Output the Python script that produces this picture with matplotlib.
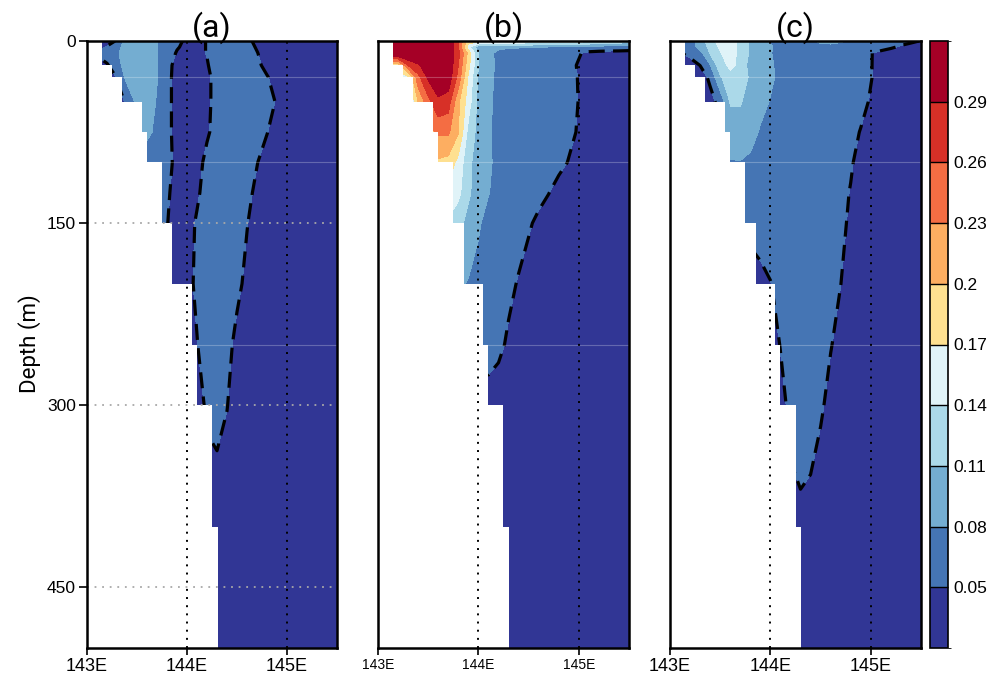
import numpy as np
import matplotlib
matplotlib.use('Agg')
import matplotlib.pyplot as plt
import matplotlib.cm as cm
from matplotlib.colors import ListedColormap, BoundaryNorm

# grid of the sections
lons = [143.0, 143.1, 143.2, 143.3, 143.4, 143.5, 143.6, 143.7, 143.8, 143.9,
        144.0, 144.1, 144.2, 144.3, 144.4, 144.5, 144.6, 144.7, 144.8, 144.9,
        145.0, 145.1, 145.2, 145.3, 145.4, 145.5]
depths = [0, 5, 10, 20, 30, 50, 75, 100, 125, 150, 200, 250, 300, 400, 500]

# values in hundredths, one row per depth
field_a = [
    [3, 3, 4, 5.25, 10, 10, 9.5, 8.1, 7, 5.6, 4.5, 4.4, 5.1, 6.5, 6.8, 6.5, 5.6, 4.4, 3.5, 3, 3, 3, 3, 3, 3, 3],
    [3.7, 4.2, 5.2, 6.5, 10, 10, 9.5, 8.1, 6.6, 5.2, 4.4, 4.4, 5.1, 6.5, 6.8, 6.5, 5.8, 4.8, 3.7, 3.1, 3, 3, 3, 3, 3, 3],
    [4.5, 5.5, 6.5, 7.5, 10, 10, 9.5, 8.1, 6.2, 4.8, 4.3, 4.4, 5.1, 6.5, 6.8, 6.5, 6.0, 5.1, 4.0, 3.2, 3, 3, 3, 3, 3, 3],
    [3, 3.5, 4.7, 6.8, 9.5, 10, 9.6, 8.1, 6.0, 4.0, 3.6, 3.8, 4.8, 6.2, 6.8, 6.7, 6.3, 5.6, 4.2, 3.2, 3, 3, 3, 3, 3, 3],
    [3, 3, 3.5, 5.1, 9.0, 10, 9.6, 8.1, 5.8, 4.0, 3.5, 3.6, 4.5, 5.8, 6.8, 6.9, 6.7, 6.3, 5.2, 3.8, 3.2, 3, 3, 3, 3, 3],
    [3, 3, 3, 4.2, 5.3, 8.8, 9.3, 7.8, 5.8, 4.0, 3.5, 3.6, 4.5, 5.8, 6.9, 7.0, 6.8, 6.5, 5.8, 4.8, 3.5, 3, 3, 3, 3, 3],
    [3, 3, 3, 5, 7, 9.0, 8.6, 7.4, 5.8, 4.0, 3.5, 3.6, 4.7, 5.8, 6.8, 6.9, 6.6, 6.1, 5.1, 3.8, 3.2, 3, 3, 3, 3, 3],
    [3, 3, 3, 4, 5.5, 6.5, 6.5, 6.5, 5.9, 4.2, 3.5, 4.2, 5.6, 6.5, 6.8, 6.6, 6.0, 5.1, 3.8, 3.2, 3, 3, 3, 3, 3, 3],
    [3, 3, 3, 4, 5.5, 6.5, 6.5, 6.3, 5.4, 4.0, 3.6, 4.6, 6.0, 6.6, 6.7, 6.4, 5.7, 4.4, 3.4, 3, 3, 3, 3, 3, 3, 3],
    [3, 3, 3, 4, 5.5, 6.5, 6.5, 6.0, 5.1, 3.8, 4.0, 5.3, 6.5, 6.6, 6.4, 6.0, 5.1, 4.0, 3.3, 3, 3, 3, 3, 3, 3, 3],
    [3, 3, 3, 3, 3, 3, 3, 3, 3.5, 3.5, 4.2, 5.5, 6.5, 6.5, 6.2, 5.6, 4.4, 3.3, 3, 3, 3, 3, 3, 3, 3, 3],
    [3, 3, 3, 3, 3, 3, 3, 3, 3, 3, 3.5, 4.9, 6.3, 6.4, 5.8, 4.3, 3.3, 3, 3, 3, 3, 3, 3, 3, 3, 3],
    [3, 3, 3, 3, 3, 3, 3, 3, 3, 3, 3, 3.5, 5.6, 6.2, 5.1, 3.5, 3, 3, 3, 3, 3, 3, 3, 3, 3, 3],
    [3] * 26,
    [3] * 26,
]

field_b = [
    [33, 33, 33, 33, 33, 33, 33, 32, 26, 18.5, 18.5, 18.5, 18, 17.5, 17, 16.8, 16.5, 16.3, 16, 15.8, 15.5, 15, 14.5, 14, 13.5, 13],
    [33, 33, 33, 33, 33, 33, 33, 32, 26, 15, 9, 8.6, 8.4, 8.3, 8.2, 8.1, 8.0, 7.9, 7.8, 7.7, 7.5, 7, 6.8, 6.5, 6.2, 6],
    [33, 33, 33, 33, 33, 33, 33, 31.5, 27, 19, 11, 8.5, 7.5, 7, 6.9, 6.8, 6.7, 6.6, 6.4, 6.2, 5.2, 4.4, 4.2, 4.2, 4.3, 4.3],
    [18, 18, 18, 26, 28.5, 31, 31, 31.5, 26, 18, 11, 8.8, 7.5, 7, 6.9, 6.8, 6.7, 6.5, 6.2, 5.6, 4.8, 4.0, 3.8, 3.8, 3.8, 3.8],
    [16, 16, 16, 16, 25, 29.5, 31, 31, 25, 16.5, 10.5, 8.6, 7.4, 7.0, 6.9, 6.8, 6.6, 6.4, 6.1, 5.6, 4.9, 4.0, 3.8, 3.8, 3.8, 3.8],
    [12, 12, 12, 12, 20, 25, 28.5, 27.5, 20.5, 15.5, 10, 8.5, 7.3, 7.0, 6.9, 6.8, 6.6, 6.4, 6.1, 5.6, 4.95, 4.0, 3.8, 3.8, 3.8, 3.8],
    [10, 10, 10, 10, 14, 22, 23.5, 23.5, 20.2, 13, 10, 8.3, 7.2, 7.0, 6.9, 6.8, 6.6, 6.3, 6.0, 5.5, 4.8, 4.0, 3.8, 3.8, 3.8, 3.8],
    [10, 10, 10, 10, 12, 18, 19.5, 19, 16, 11.8, 9.5, 8.4, 7.3, 7.0, 6.9, 6.8, 6.6, 6.2, 5.6, 4.9, 4.3, 3.8, 3.6, 3.6, 3.6, 3.6],
    [8, 8, 8, 8, 10, 14, 16, 16, 14.8, 11.5, 9.5, 8.1, 7.2, 6.8, 6.5, 6.2, 5.7, 5.05, 4.2, 3.8, 3.6, 3.6, 3.6, 3.6, 3.6, 3.6],
    [7, 7, 7, 7, 8, 11, 13, 13.5, 12, 10, 8.3, 7.2, 6.8, 6.4, 6.0, 5.3, 4.5, 3.9, 3.6, 3.6, 3.6, 3.6, 3.6, 3.6, 3.6, 3.6],
    [6, 6, 6, 6, 6, 7, 8, 8.5, 8.5, 7.8, 7.2, 6.8, 6.3, 5.6, 4.8, 4.0, 3.6, 3.5, 3.5, 3.5, 3.5, 3.5, 3.5, 3.5, 3.5, 3.5],
    [5, 5, 5, 5, 5, 5, 5, 6, 6.5, 6.5, 6.5, 6.2, 5.6, 4.6, 3.8, 3.5, 3.5, 3.5, 3.5, 3.5, 3.5, 3.5, 3.5, 3.5, 3.5, 3.5],
    [3.5, 3.5, 3.5, 3.5, 3.5, 3.5, 3.5, 3.5, 3.5, 3.5, 3.5, 3.8, 3.6, 3.5, 3.5, 3.5, 3.5, 3.5, 3.5, 3.5, 3.5, 3.5, 3.5, 3.5, 3.5, 3.5],
    [3.5] * 26,
    [3.5] * 26,
]

field_c = [
    [5, 6, 6.5, 9.5, 12.5, 15.5, 16, 12.5, 10.5, 9, 7.9, 7, 7, 7.2, 7.8, 8.3, 8.4, 8.2, 7.8, 7, 6.5, 6.3, 6.1, 5.8, 5.4, 4.9],
    [4.8, 5.5, 6.5, 9, 11.8, 14.5, 15.5, 13, 10.6, 9.2, 8.2, 7.3, 7, 7, 7.2, 7.5, 7.6, 7.4, 7.2, 6.8, 6.2, 5.9, 5.3, 4.7, 4.2, 4],
    [4.5, 4.8, 5.8, 7.0, 11.2, 13.8, 15.5, 13, 10.6, 9.0, 8.1, 7.4, 7.0, 6.9, 6.9, 6.8, 6.6, 6.4, 6.2, 5.9, 5.1, 4.4, 4.0, 4.0, 4.0, 4.0],
    [3, 3, 3.8, 5.05, 7.8, 13, 14.5, 13.5, 9.5, 8.8, 8.2, 7.6, 7.0, 6.9, 6.8, 6.7, 6.5, 6.3, 6.1, 5.8, 5.1, 4.3, 3.9, 3.9, 3.9, 3.9],
    [3, 3, 3, 3.5, 5.6, 10.5, 13.3, 13.9, 10.2, 8.9, 8.3, 7.6, 7.0, 6.9, 6.8, 6.6, 6.5, 6.3, 6.1, 5.8, 5.1, 4.3, 3.9, 3.9, 3.9, 3.9],
    [3, 3, 3, 3.5, 4.0, 6.0, 11.2, 11.3, 9.5, 8.6, 7.9, 7.4, 7.0, 6.9, 6.8, 6.6, 6.4, 6.2, 6.0, 5.6, 4.8, 4.2, 3.8, 3.8, 3.8, 3.8],
    [3, 3, 3, 4, 6, 9.5, 9.8, 9.5, 8.8, 7.8, 7.4, 7.2, 7.0, 6.9, 6.8, 6.6, 6.4, 6.2, 5.6, 4.9, 4.3, 3.8, 3.8, 3.8, 3.8, 3.8],
    [3, 3, 3, 3.5, 5, 7, 7.8, 7.9, 7.6, 7.2, 7.0, 6.9, 6.8, 6.7, 6.5, 6.3, 6.1, 5.9, 5.2, 4.4, 4.0, 3.6, 3.6, 3.6, 3.6, 3.6],
    [3, 3, 3, 3, 4, 6, 7, 7.2, 7.1, 7.0, 6.9, 6.8, 6.7, 6.5, 6.3, 6.1, 5.8, 5.5, 4.9, 4.2, 3.6, 3.6, 3.6, 3.6, 3.6, 3.6],
    [3, 3, 3, 3, 4, 5.5, 6, 6.2, 6.0, 6.3, 6.6, 6.7, 6.7, 6.6, 6.4, 6.2, 5.9, 5.4, 4.7, 4.0, 3.6, 3.6, 3.6, 3.6, 3.6, 3.6],
    [3, 3, 3, 3, 3, 3, 3, 3.2, 3.5, 4.2, 4.9, 5.8, 6.3, 6.4, 6.3, 6.0, 5.6, 5.02, 4.3, 3.8, 3.6, 3.6, 3.6, 3.6, 3.6, 3.6],
    [3, 3, 3, 3, 3, 3, 3, 3, 3, 3, 3.8, 5.1, 6.0, 6.2, 6.0, 5.6, 5.1, 4.4, 3.8, 3.6, 3.6, 3.6, 3.6, 3.6, 3.6, 3.6],
    [3.5, 3.5, 3.5, 3.5, 3.5, 3.5, 3.5, 3.5, 3.5, 3.5, 3.6, 4.2, 5.6, 5.9, 5.8, 5.3, 4.4, 3.8, 3.6, 3.6, 3.6, 3.6, 3.6, 3.6, 3.6, 3.6],
    [3.5, 3.5, 3.5, 3.5, 3.5, 3.5, 3.5, 3.5, 3.5, 3.5, 3.5, 3.6, 4.3, 4.6, 4.4, 3.6, 3.6, 3.6, 3.6, 3.6, 3.6, 3.6, 3.6, 3.6, 3.6, 3.6],
    [3.5] * 26,
]

# shelf: ocean starts east of coast_lon within each depth band
band_top = [0, 20, 30, 50, 75, 100, 150, 200, 250, 300, 400]
band_bot = [20, 30, 50, 75, 100, 150, 200, 250, 300, 400, 500]
coast_lon = [143.15, 143.245, 143.35, 143.55, 143.6, 143.75, 143.855, 144.05, 144.10, 144.25, 144.305]

levels = [0.02, 0.05, 0.08, 0.11, 0.14, 0.17, 0.20, 0.23, 0.26, 0.29, 0.32]
level_labels = ['0.05', '0.08', '0.11', '0.14', '0.17', '0.2', '0.23', '0.26', '0.29']
colors = ['#313695', '#4575b4', '#74add1', '#abd9e9', '#e0f3f8',
          '#fee090', '#fdae61', '#f46d43', '#d73027', '#a50026']
panels = ['(a)', '(b)', '(c)']
xticks = [143, 144, 145]
xlabels = ['143E', '144E', '145E']

fig = plt.figure(figsize=(9.91, 6.78), dpi=100)
W, H = 991.0, 678.0
lefts = [87, 378, 670]
widths = [250, 251, 251]
fill_levels = [0.0] + levels[1:-1] + [1.0]
thin = ['Roboto', 'DejaVu Sans']

for i, field in enumerate([field_a, field_b, field_c]):
    ax = fig.add_axes([lefts[i] / W, 30 / H, widths[i] / W, 607 / H])
    z = np.array(field) / 100.0
    ax.contourf(lons, depths, z, levels=fill_levels, colors=colors)
    ax.contour(lons, depths, z, levels=[0.05], colors='k', linewidths=2.3,
               linestyles=[(0, (5, 2.6))])
    for d in [30, 100, 250]:
        ax.axhline(d, color='white', alpha=0.25, lw=0.8)
    for t, b, c in zip(band_top, band_bot, coast_lon):
        ax.fill_betweenx([t, b], 142.9, c, color='white', lw=0, zorder=3)
    for x in [144, 145]:
        ax.axvline(x, color='k', lw=1.4, ls=(0, (1, 3.2)), zorder=4)
    if i == 0:
        for d in [150, 300, 450]:
            ax.axhline(d, color='#a8a8a8', lw=1.3, ls=(0, (1, 3.2)), zorder=4)
    ax.set_xlim(143, 145.5)
    ax.set_ylim(500, 0)
    ax.set_xticks(xticks)
    ax.set_xticklabels(xlabels, family='Liberation Sans',
                       fontsize=13 if i != 1 else 10)
    ax.set_yticks([0, 150, 300, 450])
    ax.set_yticks(np.arange(0, 501, 10), minor=True)
    ax.tick_params(axis='x', which='major', direction='out', length=5, width=1.2, pad=2)
    if i == 0:
        ax.set_yticklabels(['0', '150', '300', '450'], family='Liberation Sans', fontsize=12.5)
        ax.tick_params(axis='y', which='major', direction='out', length=6, width=1.2, pad=2)
    else:
        ax.set_yticklabels([])
        ax.tick_params(axis='y', which='major', length=0)
    ax.tick_params(axis='y', which='minor', direction='in', length=2, width=0.6)
    for s in ax.spines.values():
        s.set_linewidth(1.8)
        s.set_zorder(6)
    ax.text(0.5, 1.022, panels[i], transform=ax.transAxes, ha='center', va='center',
            fontsize=23, family=thin, color='black', zorder=7)

fig.text(30 / W, 1 - 344 / H, 'Depth (m)', rotation=90, ha='center', va='center',
         fontsize=16, family=thin, color='black')

cax = fig.add_axes([930 / W, 30 / H, 18 / W, 607 / H])
sm = cm.ScalarMappable(norm=BoundaryNorm(levels, len(colors)), cmap=ListedColormap(colors))
cb = fig.colorbar(sm, cax=cax, ticks=levels[1:-1], drawedges=True)
cb.ax.set_yticklabels(level_labels, family='Liberation Sans', fontsize=12.5)
cb.ax.tick_params(length=0, pad=4)
cb.outline.set_linewidth(1.2)
cb.dividers.set_linewidth(1.0)

fig.savefig('out.png', dpi=100)
